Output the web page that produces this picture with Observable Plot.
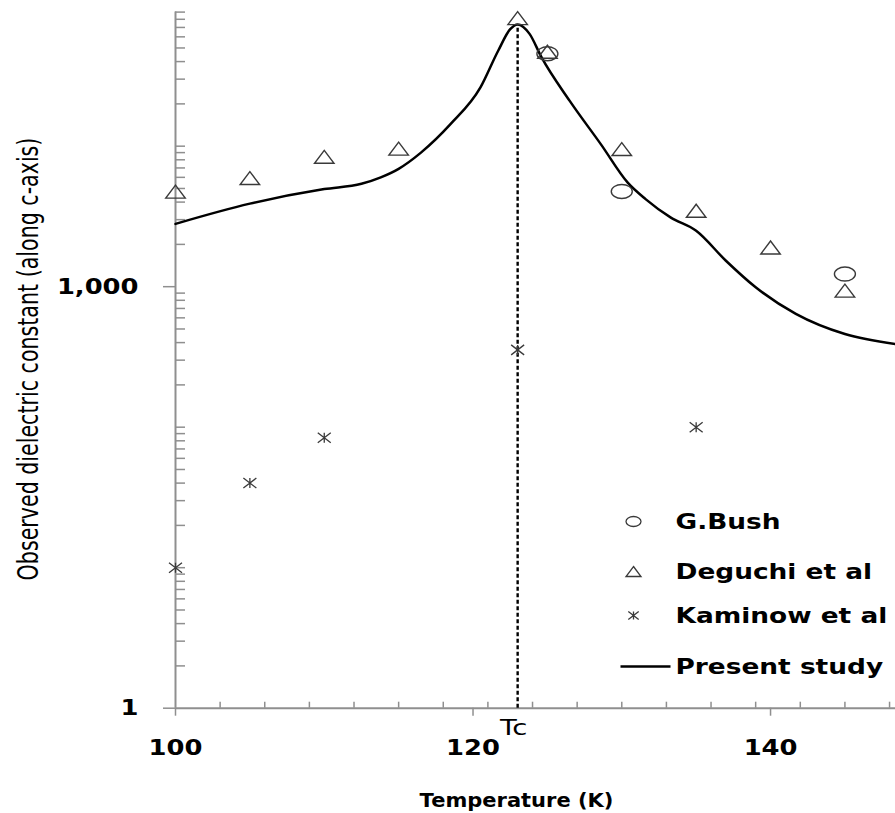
<!DOCTYPE html>
<html>
<head>
<meta charset="utf-8">
<script src="https://cdn.jsdelivr.net/npm/d3@7"></script>
<script src="https://cdn.jsdelivr.net/npm/@observablehq/plot@0.6"></script>
<style>
  html, body { margin: 0; padding: 0; background: #fff; }
  #chart { width: 895px; height: 813px; overflow: hidden; }
</style>
</head>
<body>
<div id="chart"></div>
<script>
// ---------------- data ----------------
const bushT = [125, 130, 145];
const bushEps = [45500, 4760, 1230];

const deguchiT = [100, 105, 110, 115, 123, 125, 130, 135, 140, 145];
const deguchiEps = [4750, 5930, 8400, 9600, 81500, 47000, 9540, 3470, 1900, 937];

const kaminowT = [100, 105, 110, 123, 135];
const kaminowEps = [10, 40, 84, 355, 100];

const studyT = [100, 105, 110, 112.5, 113.8, 115, 116.5, 118.5, 120.5, 121.7, 122.5, 123,
                123.8, 124.6, 126.5, 128.6, 130.4, 131.6, 133.3, 135, 137, 139, 141.7, 145, 148.4];
const studyEps = [2800, 3900, 4950, 5400, 6000, 6900, 9000, 14400, 26200, 48000, 68000, 73500,
                  63000, 43000, 21000, 10300, 5500, 4200, 3100, 2500, 1530, 990, 640, 460, 390];

const Tc = 123;
const tcLabel = "Tc";
const xTicks = [100, 120, 140];
const xMinorTicks = [103, 106, 109, 112, 115, 118, 121, 124, 127, 130, 133, 136, 139, 142, 145, 148];
const yTicks = [1, 1000];
const seriesNames = ["G.Bush", "Deguchi et al", "Kaminow et al", "Present study"];
const xTitle = "Temperature (K)";
const yTitle = "Observed dielectric constant (along c-axis)";

// ---------------- tables ----------------
const zip = (xs, ys) => xs.map((t, i) => ({t, e: ys[i]}));
const bush = zip(bushT, bushEps);
const deguchi = zip(deguchiT, deguchiEps);
const kaminow = zip(kaminowT, kaminowEps);
const study = zip(studyT, studyEps);
// minor log ticks (1..9 × 10^n), without the labelled major ticks
const yMinorTicks = d3.range(0, 5).flatMap(p => d3.range(1, 10).map(k => k * 10 ** p))
  .filter(v => !yTicks.includes(v));

// ---------------- layout / style ----------------
const W = 895, H = 813;
const mL = 175, mR = 0, mT = 11.6, mB = 105.3;
const frameW = W - mL - mR, frameH = H - mT - mB;
const axisGray = "#8f8f8f";
const markStroke = "#3a3a3a";

// wide marker shapes (as in the reference)
const triangleSym = {draw(ctx, size) {
  const r = Math.sqrt(size / Math.PI), w = r * 1.5, h = r;
  ctx.moveTo(0, -h); ctx.lineTo(w, h); ctx.lineTo(-w, h); ctx.closePath();
}};
const ellipseSym = {draw(ctx, size) {
  const r = Math.sqrt(size / Math.PI), rx = r * 1.5, ry = r, k = 0.5523;
  ctx.moveTo(rx, 0);
  ctx.bezierCurveTo(rx, ry * k, rx * k, ry, 0, ry);
  ctx.bezierCurveTo(-rx * k, ry, -rx, ry * k, -rx, 0);
  ctx.bezierCurveTo(-rx, -ry * k, -rx * k, -ry, 0, -ry);
  ctx.bezierCurveTo(rx * k, -ry, rx, -ry * k, rx, 0);
  ctx.closePath();
}};
const asteriskSym = {draw(ctx, size) {
  const r = Math.sqrt(size / Math.PI), w = r * 1.3, h = r;
  ctx.moveTo(-w, -h); ctx.lineTo(w, h);
  ctx.moveTo(-w, h); ctx.lineTo(w, -h);
  ctx.moveTo(0, -h); ctx.lineTo(0, h);
}};
const hlineSym = {draw(ctx) { ctx.moveTo(-25, 0); ctx.lineTo(25, 0); }};

const legendSymbols = [ellipseSym, triangleSym, asteriskSym, hlineSym];
const legendRowsPx = [521, 571, 615, 666];

const legendMarks = seriesNames.flatMap((name, i) => [
  Plot.dot([name], {
    frameAnchor: "top-left",
    dx: (i === 3 ? 645 : 633) - mL, dy: legendRowsPx[i] - mT,
    symbol: legendSymbols[i], r: i === 2 ? 4 : 5,
    fill: "none",
    stroke: i === 3 ? "#000" : markStroke,
    strokeWidth: i === 3 ? 2.5 : 1.3
  }),
  Plot.text([name], {
    frameAnchor: "top-left",
    dx: 675 - mL, dy: legendRowsPx[i] - mT,
    textAnchor: "start", lineAnchor: "middle",
    fontSize: 22, fontWeight: "bold", fill: "#000"
  })
]);

const chart = Plot.plot({
  width: W, height: H,
  marginLeft: mL, marginRight: mR, marginTop: mT, marginBottom: mB,
  style: {fontFamily: "'DejaVu Sans', sans-serif", background: "#fff", color: "#000", overflow: "visible"},
  x: {type: "linear", domain: [100, 148.4]},
  y: {type: "log", domain: [1, 90000]},
  marks: [
    // axis lines
    Plot.ruleX([100], {stroke: axisGray, strokeWidth: 2}),
    Plot.ruleY([1], {stroke: axisGray, strokeWidth: 2}),
    // inward minor ticks
    Plot.tickX(xMinorTicks, {x: d => d, stroke: axisGray, strokeWidth: 1.5, insetTop: frameH - 6}),
    Plot.tickY(yMinorTicks, {y: d => d, stroke: axisGray, strokeWidth: 1.5, insetRight: frameW - 10}),
    // major ticks + labels
    Plot.axisX({ticks: xTicks, tickSize: 8, tickPadding: 24, stroke: axisGray, strokeWidth: 1.5,
      fill: "#000", fontSize: 21.5, fontWeight: "bold", tickFormat: d => String(d), label: null}),
    Plot.axisY({ticks: yTicks, tickSize: 12, tickPadding: 25, stroke: axisGray, strokeWidth: 1.5,
      fill: "#000", fontSize: 21.5, fontWeight: "bold", tickFormat: d3.format(","), label: null}),
    // axis titles
    Plot.text([xTitle], {frameAnchor: "bottom", lineAnchor: "middle", textAnchor: "middle",
      dx: 516 - (mL + frameW / 2), dy: 92,
      fontSize: 20, fontWeight: "bold", fill: "#000"}),
    Plot.text([yTitle], {frameAnchor: "left", textAnchor: "middle", lineAnchor: "middle", rotate: -90,
      dx: 29 - mL, dy: 358.5 - (mT + frameH / 2),
      fontSize: 20.6, fontWeight: "normal", fill: "#000"}),
    // Tc marker line and label
    Plot.ruleX([Tc], {y1: 1, y2: d3.max(studyEps), stroke: "#000", strokeWidth: 2.4, strokeDasharray: "4,2.5"}),
    Plot.text([tcLabel], {x: () => Tc, frameAnchor: "bottom", lineAnchor: "middle", textAnchor: "middle",
      dx: -4, dy: 20, fontSize: 22, fill: "#000"}),
    // present study curve
    Plot.line(study, {x: "t", y: "e", curve: "monotone-x", stroke: "#000", strokeWidth: 2.5}),
    // literature points
    Plot.dot(deguchi, {x: "t", y: "e", symbol: triangleSym, r: 6.5, fill: "none", stroke: markStroke, strokeWidth: 1.4}),
    Plot.dot(bush, {x: "t", y: "e", symbol: ellipseSym, r: 7, fill: "none", stroke: markStroke, strokeWidth: 1.4}),
    Plot.dot(kaminow, {x: "t", y: "e", symbol: asteriskSym, r: 5, fill: "none", stroke: markStroke, strokeWidth: 1.3}),
    // legend
    ...legendMarks
  ]
});

document.getElementById("chart").appendChild(chart);

// horizontal stretch of the texts, as in the reference
function stretch(list, sx, sy) {
  chart.querySelectorAll("text").forEach(t => {
    if (list.includes(t.textContent)) {
      const tr = t.getAttribute("transform");
      if (tr) t.setAttribute("transform", `${tr} scale(${sx},${sy})`);
    }
  });
}
stretch(seriesNames, 1.2, 1);
stretch(xTicks.map(String), 1.2, 1);
stretch(yTicks.map(d3.format(",")), 1.2, 1);
stretch([xTitle], 1.05, 1);
stretch([tcLabel], 1.25, 1);
stretch([yTitle], 1, 1.35);
</script>
</body>
</html>
